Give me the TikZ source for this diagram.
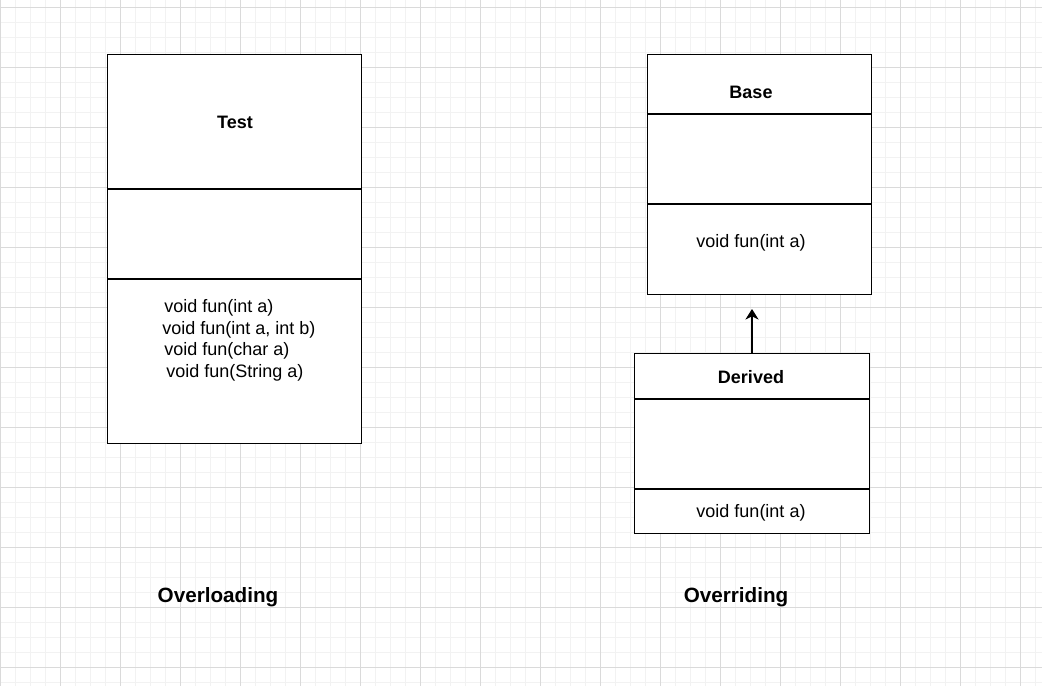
\documentclass[tikz,border=0pt]{standalone}
\usepackage{fontspec}
\setmainfont{Liberation Sans}
\usetikzlibrary{arrows.meta}
\definecolor{gridminor}{HTML}{F2F2F2}
\definecolor{gridmajor}{HTML}{DADADA}
\tikzset{
  umlbox/.style={draw=black, line width=0.8pt, fill=white, rectangle, anchor=north west, inner sep=0pt},
  divider/.style={draw=black, line width=0.8pt},
  title/.style={font=\fontsize{13.5pt}{16pt}\selectfont\bfseries, inner sep=0pt},
  method/.style={font=\fontsize{13.5pt}{16pt}\selectfont, inner sep=0pt},
  caption/.style={font=\fontsize{15.5pt}{18pt}\selectfont\bfseries, inner sep=0pt},
  inherit/.style={draw=black, line width=0.8pt, -{Stealth[length=8pt,width=10pt,inset=2.5pt]}}
}
\begin{document}
\begin{tikzpicture}[x=0.75pt,y=-0.75pt]
\useasboundingbox (0,0) rectangle (1042,686);
\fill[white] (0,0) rectangle (1042,686);
% grid
\foreach \gx in {0,15,...,1042} \draw[gridminor, line width=0.75pt] (\gx,0) -- (\gx,686);
\foreach \gy in {7,22,...,686} \draw[gridminor, line width=0.75pt] (0,\gy) -- (1042,\gy);
\foreach \gx in {0,60,...,1042} \draw[gridmajor, line width=0.75pt] (\gx,0) -- (\gx,686);
\foreach \gy in {7,67,...,686} \draw[gridmajor, line width=0.75pt] (0,\gy) -- (1042,\gy);

% Test class
\node[umlbox, minimum width=254*0.75pt, minimum height=389*0.75pt] (test) at (107,54) {};
\draw[divider] ([yshift=-135*0.75pt]test.north west) -- ([yshift=-135*0.75pt]test.north east);
\draw[divider] ([yshift=-225*0.75pt]test.north west) -- ([yshift=-225*0.75pt]test.north east);
\node[title] (testname) at (235,122) {Test};
\node[method, anchor=west] (m1) at (164,308) {void fun(int a)};
\node[method, anchor=west] (m2) at (162,330) {void fun(int a, int b)};
\node[method, anchor=west] (m3) at (164,351) {void fun(char a)};
\node[method, anchor=west] (m4) at (166,373) {void fun(String a)};

% Base class
\node[umlbox, minimum width=224*0.75pt, minimum height=240*0.75pt] (base) at (647,54) {};
\draw[divider] ([yshift=-60*0.75pt]base.north west) -- ([yshift=-60*0.75pt]base.north east);
\draw[divider] ([yshift=-150*0.75pt]base.north west) -- ([yshift=-150*0.75pt]base.north east);
\node[title] (basename) at (751,92) {Base};
\node[method] (bm) at (751,243) {void fun(int a)};

% Derived class
\node[umlbox, minimum width=235*0.75pt, minimum height=180*0.75pt] (derived) at (634,353) {};
\draw[divider] ([yshift=-46*0.75pt]derived.north west) -- ([yshift=-46*0.75pt]derived.north east);
\draw[divider] ([yshift=-136*0.75pt]derived.north west) -- ([yshift=-136*0.75pt]derived.north east);
\node[title] (derivedname) at (751,377) {Derived};
\node[method] (dm) at (751,513) {void fun(int a)};

% arrow
\coordinate (arrowtip) at (752,309);
\draw[inherit] (derived.north -| arrowtip) -- (arrowtip);

% captions
\node[caption] (overloading) at (218,597) {Overloading};
\node[caption] (overriding) at (736,597) {Overriding};
\end{tikzpicture}
\end{document}
